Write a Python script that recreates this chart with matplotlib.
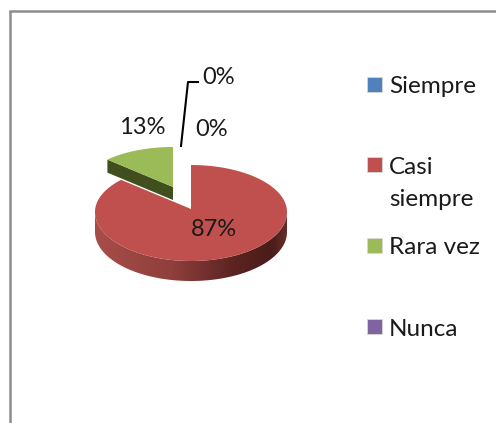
import numpy as np
import matplotlib
matplotlib.use("Agg")
import matplotlib.pyplot as plt
from matplotlib.colors import LinearSegmentedColormap
from matplotlib.patches import Polygon, Rectangle

categories = ["Siempre", "Casi\nsiempre", "Rara vez", "Nunca"]
values = [0, 87, 13, 0]
colors = ["#4f81bd", "#c0504d", "#9bbb59", "#8064a2"]
value_labels = ["0%", "87%", "13%", "0%"]

plt.rcParams["font.family"] = ["Lato", "DejaVu Sans"]
W, H = 496, 423
fig = plt.figure(figsize=(W / 100, H / 100), dpi=100)
ax = fig.add_axes([0, 0, 1, 1])
ax.set_xlim(0, W)
ax.set_ylim(H, 0)
ax.axis("off")

# chart frame
ax.plot([9.5, 9.5, W + 2], [H + 2, 11, 11], color="#8c8c8c", lw=1.8, solid_joinstyle="miter")


def outer(theta, cx, cy, rx, ry_up, ry_down):
    s, c = np.sin(theta), np.cos(theta)
    return cx + rx * c, cy - np.where(s > 0, ry_up, ry_down) * s


def slice_xy(start, sweep, cx, cy, rx, ry_up, ry_down, apex_dy):
    """Clockwise slice from start (deg) over sweep (deg)."""
    t = np.radians(start - np.linspace(0, sweep, 300))
    x, y = outer(t, cx, cy, rx, ry_up, ry_down)
    return np.r_[cx, x], np.r_[cy + apex_dy, y]


total = sum(values)
sweep_red = values[1] / total * 360
sweep_green = values[2] / total * 360
start_red = 90
start_green = start_red - sweep_red

# green slice (pulled out)
gx, gy = slice_xy(start_green, sweep_green, 173, 187, 90, 40, 40, 0)
depth_g = 13
tip = (gx[1], gy[1])
ax.add_patch(Polygon([tip, (gx[0], gy[0]), (gx[0], gy[0] + depth_g), (tip[0], tip[1] + depth_g)],
                     closed=True, fc="#414f1e", ec="none", zorder=2))
ax.add_patch(Polygon(np.c_[gx, gy], closed=True, fc=colors[2], ec="none", zorder=3))

# red slice side wall with gradient
cx, cy, rx, up, down = 191, 212, 96, 47, 49
depth = 20
t = np.radians(np.linspace(180, 360, 200))
ax_, ay_ = outer(t, cx, cy, rx, up, down)
wall = Polygon(np.r_[np.c_[ax_, ay_], np.c_[ax_, ay_ + depth][::-1]], closed=True,
               fc="none", ec="none", transform=ax.transData)
ax.add_patch(wall)
cmap = LinearSegmentedColormap.from_list(
    "wall", [(0, "#a84d4a"), (0.4, "#8f3f3c"), (0.72, "#5c2422"), (0.92, "#4a1c1a"), (1, "#642d2b")])
im = ax.imshow(np.linspace(0, 1, 256)[None, :], cmap=cmap, aspect="auto", zorder=4,
               extent=(cx - rx, cx + rx, H, 0))
im.set_clip_path(wall)
ax.set_xlim(0, W)
ax.set_ylim(H, 0)

rx_, ry_ = slice_xy(start_red, sweep_red, cx, cy, rx, up, down, -3)
ax.add_patch(Polygon(np.c_[rx_, ry_], closed=True, fc=colors[1], ec="none", zorder=5))

# leader line
ax.plot([181, 188, 198], [146, 82, 82], color="black", lw=1.5, zorder=6)

# data labels
fs = 17
tc = "#1a1a1a"
ax.text(219, 78, value_labels[0], fontsize=fs, ha="center", va="center", color=tc, zorder=7)
ax.text(212, 129, value_labels[3], fontsize=fs, ha="center", va="center", color=tc, zorder=7)
ax.text(142, 127, value_labels[2], fontsize=fs, ha="center", va="center", color=tc, zorder=7)
ax.text(214, 230, value_labels[1], fontsize=fs, ha="center", va="center", color=tc, zorder=7)

# legend
leg_y = [84.5, 165, 246, 327]
for c, lab, y in zip(colors, categories, leg_y):
    ax.add_patch(Rectangle((367, y - 7.5), 15, 15, fc=c, ec="#d8d8d8", lw=0.6, zorder=6))
    for i, p in enumerate(lab.split("\n")):
        ax.text(389, y + 2 + i * 32, p, fontsize=17.5, ha="left", va="center", color=tc, zorder=7)

fig.savefig("out.png", dpi=100, facecolor="white")
